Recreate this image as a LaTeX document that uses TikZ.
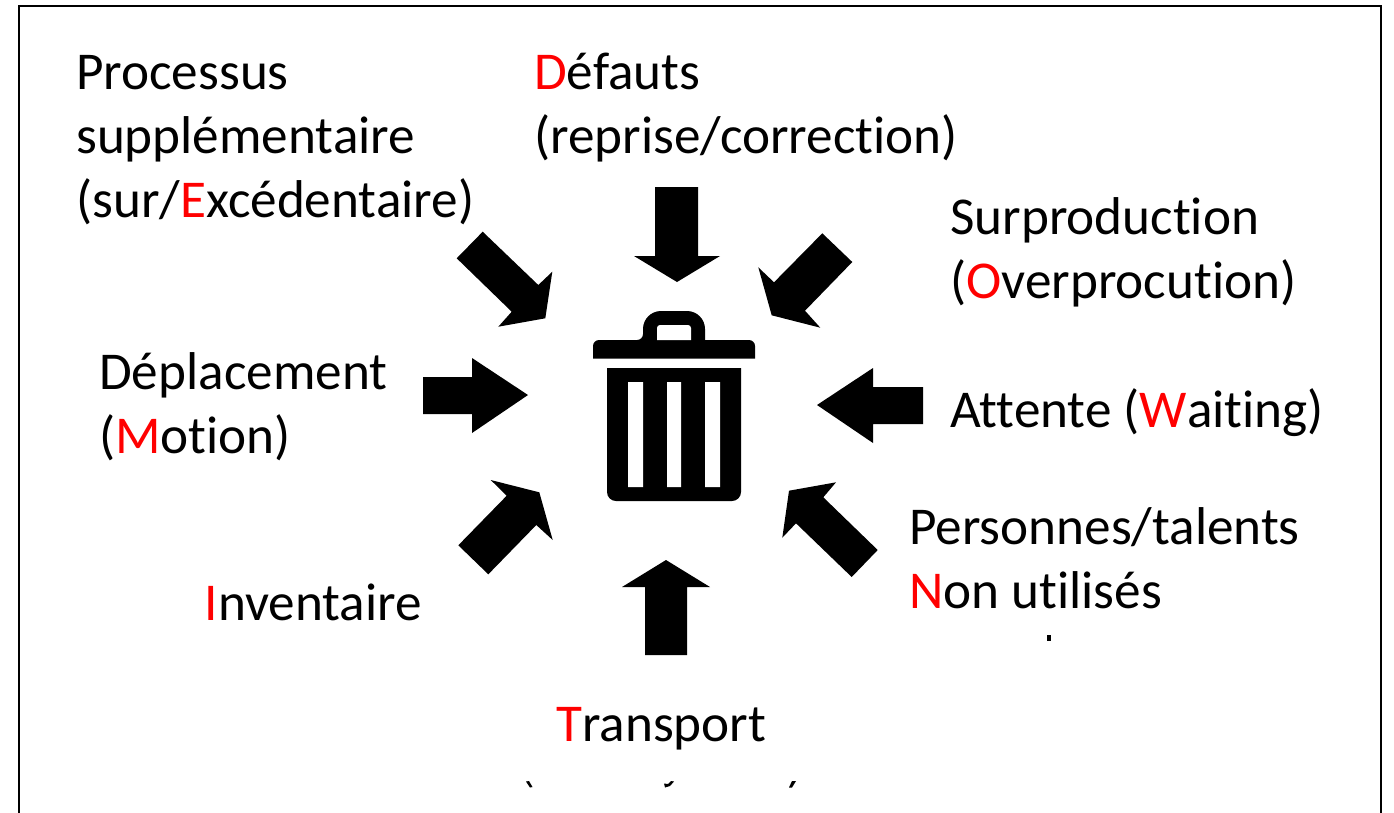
\documentclass[tikz,border=0pt]{standalone}
\usepackage{fontspec}
\setmainfont{Carlito}[Ligatures=CommonOff]
\definecolor{accent}{RGB}{255,0,0}
\tikzset{
  lbl/.style={inner sep=0pt,anchor=base west,font=\fontsize{53.2}{64}\selectfont,align=left},
  blk/.style={fill=black,draw=none},
}
\newcommand{\rd}[1]{\textcolor{accent}{#1}}
\begin{document}
\begin{tikzpicture}[x=1pt,y=-1pt]
\useasboundingbox (0,0) rectangle (1394,812);
\fill[white] (0,0) rectangle (1394,812);
\draw[line width=2.2pt] (19,814) -- (19,6) -- (1381,6) -- (1381,814);
% texts
\node[lbl] (p1) at (76,89) {Processus};
\node[lbl] (p2) at (76,153) {supplémentaire};
\node[lbl] (p3) at (76,217) {(sur/\rd{E}xcédentaire)};
\node[lbl] (d1) at (534,89) {\rd{D}éfauts};
\node[lbl] (d2) at (534,153) {(reprise/correction)};
\node[lbl] (s1) at (950,234) {Surproduction};
\node[lbl] (s2) at (950,298) {(\rd{O}verprocution)};
\node[lbl] (a1) at (950,427) {Attente (\rd{W}aiting)};
\node[lbl] (m1) at (99,389) {Déplacement};
\node[lbl] (m2) at (99,453) {(\rd{M}otion)};
\node[lbl] (t1) at (909,544) {Personnes/talents};
\node[lbl] (t2) at (909,608) {\rd{N}on utilisés};
\node[lbl] (i1) at (204.5,620) {\rd{I}nventaire};
\node[lbl] (tr) at (556,741) {\rd{T}ransport};
% straight arrows
\fill[blk] (655,187) -- (698,187) -- (698,256) -- (720,256) -- (677,282) -- (634,256) -- (655,256) -- cycle;
\fill[blk] (645,655) -- (687,655) -- (687,587) -- (710,587) -- (666,560) -- (622,587) -- (645,587) -- cycle;
\fill[blk] (423,377) -- (472,377) -- (472,358) -- (528,395) -- (472,433) -- (472,414) -- (423,414) -- cycle;
\fill[blk] (923,387) -- (873,387) -- (873,368) -- (817,405) -- (873,443) -- (873,424) -- (923,424) -- cycle;
% diagonal arrows
\fill[blk] (456.7,258.3) -- (482.7,231.7) -- (538.3,285) -- (552.3,271.7) -- (545.3,318.3) -- (498.3,326.7) -- (511.7,311.7) -- cycle;
\fill[blk] (822.3,233.3) -- (852.3,262) -- (805,310.7) -- (820.3,327.7) -- (771.7,315.3) -- (758.3,267.3) -- (774,282.3) -- cycle;
\fill[blk] (458.3,545.3) -- (488.3,574.3) -- (536.3,525) -- (552.7,540) -- (539.3,492.3) -- (490.7,480) -- (506.7,495.7) -- cycle;
\fill[blk] (877.7,550) -- (851.7,577) -- (796,523.3) -- (782.3,537.7) -- (789,490.7) -- (836,482.3) -- (823.3,497.3) -- cycle;
% bin
\fill[blk,rounded corners=6pt] (593,358.5) -- (593,340) -- (643,340) [rounded corners=0pt] -- (643,340) [rounded corners=18pt] -- (643,311) -- (705,311) [rounded corners=0pt] -- (705,340) [rounded corners=6pt] -- (755,340) [sharp corners] -- (755,358.5) -- cycle;
\fill[white] (657,340) [rounded corners=3pt] -- (657,325) -- (691,325) [sharp corners] -- (691,340) -- cycle;
\fill[blk] (607,368) -- (741,368) [rounded corners=9pt] -- (741,501) -- (607,501) [sharp corners] -- (607,368) -- cycle;
\fill[white] (628,382) rectangle (643,487) (667,382) rectangle (681,487) (705,382) rectangle (720,487);
% clipped remnants of hidden text
\fill[blk] (526,781.5) -- (529,781) -- (532.5,787) -- (530,787.5) -- cycle;
\fill[blk] (664,783.5) -- (668,784) -- (671,781) -- (674,781.5) -- (670,786) -- (665,787.5) -- cycle;
\fill[blk] (792,781) -- (796,781) -- (792,787.5) -- (789,787.5) -- cycle;
\fill[blk] (1046.5,635) rectangle (1050.5,641);
\end{tikzpicture}
\end{document}
